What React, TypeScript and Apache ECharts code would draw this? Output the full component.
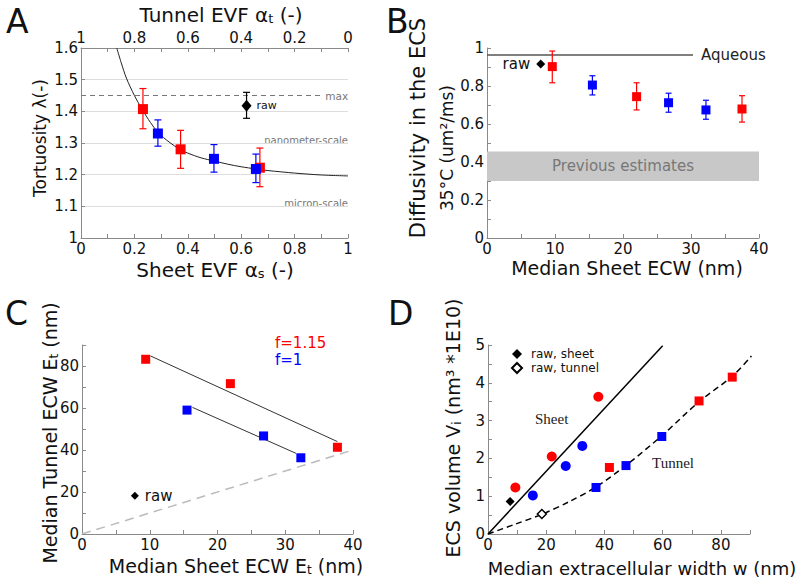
import React, { useEffect, useRef } from 'react';
import * as echarts from 'echarts';

const FONT = 'DejaVu Sans';
const SERIF = 'Liberation Serif';
const RED = '#ff0000';
const BLUE = '#0000ff';
const AXIS = '#8a8a8a';
const INK = '#111111';

// ---------- Panel A: tortuosity vs sheet EVF ----------
const aCurve = [
  [0.134, 1.6], [0.15, 1.555], [0.17, 1.505], [0.2, 1.45], [0.23, 1.405],
  [0.26, 1.365], [0.29, 1.332], [0.33, 1.303], [0.37, 1.28], [0.4, 1.268],
  [0.45, 1.253], [0.5, 1.243], [0.55, 1.233], [0.6, 1.225], [0.655, 1.218],
  [0.7, 1.213], [0.8, 1.205], [0.9, 1.199], [1.0, 1.196],
];
// [x, y, low, high]
const aRed = [[0.232, 1.407, 1.345, 1.472], [0.373, 1.28, 1.22, 1.34], [0.67, 1.222, 1.162, 1.284]];
const aBlue = [[0.288, 1.33, 1.29, 1.373], [0.498, 1.25, 1.208, 1.295], [0.655, 1.218, 1.175, 1.265]];
const aRaw = [[0.62, 1.418, 1.378, 1.46]];
const aMaxLine = [[0, 1.45], [0.9, 1.45]];

// ---------- Panel B: diffusivity vs sheet ECW ----------
const bRed = [[9.6, 0.902, 0.817, 0.984], [22.0, 0.744, 0.674, 0.817], [37.5, 0.679, 0.61, 0.749]];
const bBlue = [[15.5, 0.805, 0.753, 0.854], [26.7, 0.712, 0.662, 0.762], [32.2, 0.674, 0.625, 0.725]];
const bRaw = [[7.9, 0.916]];
const bAqueous = [[0, 0.963], [30.3, 0.963]];
const bPrevious = [[0, 0.3], [40, 0.455]];

// ---------- Panel C: tunnel ECW vs sheet ECW ----------
const cRed = [[9.4, 83.2], [21.9, 71.6], [37.7, 41.3]];
const cBlue = [[15.5, 59], [26.8, 46.7], [32.3, 36.3]];
const cRaw = [[7.8, 18.2]];
const cRedFit = [[10.1, 84.8], [37.7, 44]];
const cBlueFit = [[16.3, 60.3], [31.6, 38.4]];
const cIdentity = [[0, 0], [40, 40]];

// ---------- Panel D: ECS volume vs width ----------
const dSheetRed = [[9.4, 1.23], [21.9, 2.05], [37.9, 3.63]];
const dSheetBlue = [[15.4, 1.02], [26.7, 1.8], [32.4, 2.33]];
const dTunnelRed = [[41.7, 1.76], [72.5, 3.52], [83.9, 4.15]];
const dTunnelBlue = [[37.1, 1.23], [47.4, 1.81], [59.7, 2.58]];
const dRawSheet = [[7.6, 0.86]];
const dRawTunnel = [[18.5, 0.53]];
const dSheetFit = [[0, 0], [60, 4.98]];
const dTunnelFit = [
  [0, 0], [9, 0.25], [18.5, 0.52], [28, 0.86], [37, 1.24], [47.5, 1.82],
  [60, 2.62], [72.5, 3.5], [84, 4.18], [90.5, 4.71],
];

const isMult = (v: number, s: number) => Math.abs(v / s - Math.round(v / s)) < 1e-6;
const fmt = (v: number) => String(Math.round(v * 1000) / 1000);

function axis(extra: any, step: number | null) {
  return {
    axisLine: { show: true, onZero: false, lineStyle: { color: AXIS, width: 1 } },
    axisTick: { show: true, inside: true, length: 4, lineStyle: { color: AXIS } },
    splitLine: { show: false },
    axisLabel: {
      color: INK, fontSize: 15, fontFamily: FONT, margin: 3,
      formatter: (v: number) => (step === null || isMult(v, step) ? fmt(v) : ''),
    },
    ...extra,
  };
}

function errSeries(data: number[][], color: string, xi: number, yi: number, half: number) {
  return {
    type: 'custom', xAxisIndex: xi, yAxisIndex: yi, data, z: 3, silent: true,
    encode: { x: 0, y: 1 },
    renderItem: (_p: any, api: any) => {
      const x = api.value(0);
      const a = api.coord([x, api.value(2)]);
      const b = api.coord([x, api.value(3)]);
      const st = { stroke: color, lineWidth: 1.2, fill: null };
      return {
        type: 'group',
        children: [
          { type: 'line', shape: { x1: a[0], y1: a[1], x2: b[0], y2: b[1] }, style: st },
          { type: 'line', shape: { x1: a[0] - half, y1: a[1], x2: a[0] + half, y2: a[1] }, style: st },
          { type: 'line', shape: { x1: b[0] - half, y1: b[1], x2: b[0] + half, y2: b[1] }, style: st },
        ],
      };
    },
  };
}

function scatter(data: number[][], color: string, xi: number, yi: number, symbol: string, size: any, extra: any = {}) {
  return {
    type: 'scatter', xAxisIndex: xi, yAxisIndex: yi, symbol, symbolSize: size,
    data: data.map((d) => [d[0], d[1]]), itemStyle: { color, opacity: 1 }, z: 4, silent: true,
    ...extra,
  };
}

function line(data: number[][], xi: number, yi: number, style: any, extra: any = {}) {
  return {
    type: 'line', xAxisIndex: xi, yAxisIndex: yi, data, showSymbol: false, symbol: 'none',
    lineStyle: style, z: 2, silent: true, ...extra,
  };
}

const subRich = (size: number) => ({
  m: { fontSize: size, lineHeight: size, verticalAlign: 'top', fill: INK, fontFamily: FONT },
  s: { fontSize: Math.round(size * 0.65), lineHeight: Math.round(size * 0.65), padding: [Math.round(size * 0.5), 0, 0, 0], verticalAlign: 'bottom', fill: INK, fontFamily: FONT },
});

function title(text: string, x: number, y: number, size: number, rotate = false) {
  return {
    type: 'text', x, y, rotation: rotate ? Math.PI / 2 : 0, silent: true,
    style: { text, rich: subRich(size), align: 'center', verticalAlign: 'middle', fill: INK, fontFamily: FONT, fontSize: size },
  };
}

function txt(text: string, x: number, y: number, size: number, color: string, align = 'left', vAlign = 'middle', family = FONT) {
  return {
    type: 'text', x, y, silent: true,
    style: { text, fill: color, fontSize: size, fontFamily: family, align, verticalAlign: vAlign },
  };
}

export default function App() {
  const ref = useRef<HTMLDivElement>(null);
  useEffect(() => {
    if (!ref.current) return;
    const chart = echarts.init(ref.current, null, { renderer: 'svg' });
    const option: any = {
      animation: false,
      textStyle: { fontFamily: FONT },
      grid: [
        { left: 81, top: 48, width: 267, height: 190 },
        { left: 487, top: 48, width: 272, height: 190 },
        { left: 82, top: 345, width: 271, height: 189 },
        { left: 488, top: 345, width: 262, height: 189 },
      ],
      xAxis: [
        axis({ type: 'value', gridIndex: 0, position: 'bottom', min: 0, max: 1, interval: 0.1 }, 0.2),
        axis({ type: 'value', gridIndex: 0, position: 'top', inverse: true, min: 0, max: 1, interval: 0.1 }, 0.2),
        axis({ type: 'value', gridIndex: 1, min: 0, max: 40, interval: 5 }, 10),
        axis({ type: 'value', gridIndex: 2, min: 0, max: 40, interval: 5 }, 10),
        axis({ type: 'value', gridIndex: 3, min: 0, max: 90, interval: 10 }, 20),
      ],
      yAxis: [
        axis({ type: 'value', gridIndex: 0, min: 1, max: 1.6, interval: 0.1,
          splitLine: { show: true, lineStyle: { color: '#dddddd', width: 1 } } }, null),
        axis({ type: 'value', gridIndex: 1, min: 0, max: 1, interval: 0.1 }, 0.2),
        axis({ type: 'value', gridIndex: 2, min: 0, max: 90, interval: 10 }, 20),
        axis({ type: 'value', gridIndex: 3, min: 0, max: 5, interval: 0.5 }, 1),
      ],
      legend: {
        data: ['raw, sheet', 'raw, tunnel'], orient: 'vertical', left: 506, top: 343,
        itemWidth: 10, itemHeight: 10, itemGap: 2, selectedMode: false,
        textStyle: { fontSize: 12, fontFamily: FONT, color: INK, padding: [0, 0, 0, 4] },
      },
      series: [
        // ----- A -----
        line(aCurve, 0, 0, { color: '#222', width: 1 }, { smooth: 0.3 }),
        line(aMaxLine, 0, 0, { color: '#777', width: 1, type: [5, 4] }, {
          endLabel: { show: true, formatter: 'max', color: '#777', fontSize: 10.5, fontFamily: FONT, distance: 4 },
        }),
        errSeries(aRed, RED, 0, 0, 3.5),
        errSeries(aBlue, BLUE, 0, 0, 3.5),
        errSeries(aRaw, '#000', 0, 0, 3.5),
        scatter(aRed, RED, 0, 0, 'rect', 10),
        scatter(aBlue, BLUE, 0, 0, 'rect', 10),
        scatter(aRaw, '#000', 0, 0, 'diamond', [10, 12], {
          label: { show: true, position: 'right', formatter: 'raw', color: INK, fontSize: 11, fontFamily: FONT, distance: 5 },
        }),
        // ----- B -----
        line(bAqueous, 2, 1, { color: '#555', width: 1.5 }, {
          endLabel: { show: true, formatter: 'Aqueous', color: '#222', fontSize: 15, fontFamily: FONT, distance: 8 },
          markArea: {
            silent: true, itemStyle: { color: '#c8c8c8' },
            label: { show: true, position: 'inside', color: '#777', fontSize: 15, fontFamily: FONT },
            data: [[{ name: 'Previous estimates', coord: bPrevious[0] }, { coord: bPrevious[1] }]],
          },
        }),
        errSeries(bRed, RED, 2, 1, 3),
        errSeries(bBlue, BLUE, 2, 1, 3),
        scatter(bRed, RED, 2, 1, 'rect', 9),
        scatter(bBlue, BLUE, 2, 1, 'rect', 9),
        scatter(bRaw, '#000', 2, 1, 'diamond', 9, {
          label: { show: true, position: 'left', formatter: 'raw', color: INK, fontSize: 15, fontFamily: FONT, distance: 6 },
        }),
        // ----- C -----
        line(cIdentity, 3, 2, { color: '#bbbbbb', width: 1.5, type: [9, 6] }),
        line(cRedFit, 3, 2, { color: '#333', width: 1 }),
        line(cBlueFit, 3, 2, { color: '#333', width: 1 }),
        scatter(cRed, RED, 3, 2, 'rect', 9),
        scatter(cBlue, BLUE, 3, 2, 'rect', 9),
        scatter(cRaw, '#000', 3, 2, 'diamond', 8, {
          label: { show: true, position: 'right', formatter: 'raw', color: INK, fontSize: 15, fontFamily: FONT, distance: 6 },
        }),
        // ----- D -----
        line(dSheetFit, 4, 3, { color: '#000', width: 1.5 }),
        line(dTunnelFit, 4, 3, { color: '#000', width: 1.5, type: [6, 4] }, { smooth: 0.3 }),
        scatter(dSheetRed, RED, 4, 3, 'circle', 10),
        scatter(dSheetBlue, BLUE, 4, 3, 'circle', 10),
        scatter(dTunnelRed, RED, 4, 3, 'rect', 9),
        scatter(dTunnelBlue, BLUE, 4, 3, 'rect', 9),
        { ...scatter(dRawSheet, '#000', 4, 3, 'diamond', 9), name: 'raw, sheet' },
        {
          ...scatter(dRawTunnel, '#fff', 4, 3, 'diamond', 9), name: 'raw, tunnel',
          itemStyle: { color: '#fff', borderColor: '#000', borderWidth: 1.5, opacity: 1 },
        },
      ],
      graphic: [
        // panel letters
        txt('A', 6, 21, 33, INK),
        txt('B', 386, 21, 33, INK),
        txt('C', 5, 313, 33, INK),
        txt('D', 388, 313, 33, INK),
        // A titles
        title('{m|Tunnel EVF α}{s|t}{m| (-)}', 221, 15, 20),
        title('{m|Sheet EVF α}{s|s}{m| (-)}', 215, 270, 20),
        title('{m|Tortuosity λ(-)}', 40, 138, 17, true),
        txt('nanometer-scale', 348, 145, 10, '#777', 'right', 'bottom'),
        txt('micron-scale', 348, 208, 10, '#777', 'right', 'bottom'),
        // B titles
        title('{m|Diffusivity in the ECS}', 418, 128, 21, true),
        title('{m|35°C (um²/ms)}', 447, 148, 17, true),
        title('{m|Median Sheet ECW (nm)}', 627, 268, 19),
        // C titles
        title('{m|Median Tunnel ECW E}{s|t}{m| (nm)}', 50, 433, 19, true),
        title('{m|Median Sheet ECW E}{s|t}{m| (nm)}', 236, 566, 19),
        txt('f=1.15', 275, 343, 15, RED),
        txt('f=1', 275, 360, 15, BLUE),
        // D titles
        title('{m|ECS volume V}{s|i}{m| (nm³ *1E10)}', 453, 428, 19, true),
        title('{m|Median extracellular width w (nm)}', 642, 568, 18),
        txt('Sheet', 535, 419, 15, '#222', 'left', 'middle', SERIF),
        txt('Tunnel', 652, 463, 15, '#222', 'left', 'middle', SERIF),
      ],
    };
    chart.setOption(option);
    return () => chart.dispose();
  }, []);
  return <div ref={ref} style={{ position: 'absolute', left: 0, top: 0, width: 800, height: 584, background: '#fff' }} />;
}
